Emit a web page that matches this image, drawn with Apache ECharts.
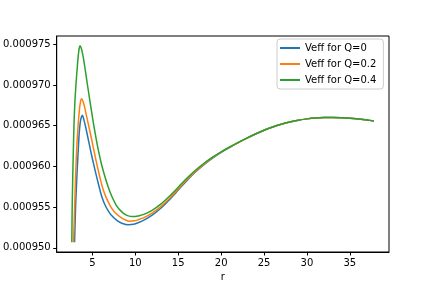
<!DOCTYPE html>
<html>
<head>
<meta charset="utf-8">
<script src="https://cdn.jsdelivr.net/npm/echarts@6/dist/echarts.min.js"></script>
<style>
html,body{margin:0;padding:0;background:#fff;}
#c{width:432px;height:288px;}
</style>
</head>
<body>
<div id="c"></div>
<script>
// ---- data ----
const seriesNames = ['Veff for Q=0', 'Veff for Q=0.2', 'Veff for Q=0.4'];
const xTicks = [5, 10, 15, 20, 25, 30, 35];
const yTicks = [0.000950, 0.000955, 0.000960, 0.000965, 0.000970, 0.000975];

const rQ0 = [2.92, 3.03, 3.13, 3.23, 3.35, 3.46, 3.55, 3.65, 3.75, 3.84, 4.0, 4.2, 4.54, 4.9, 5.31, 5.7, 6.08, 6.5, 7.05, 7.5,
  8.01, 8.5, 9.17, 9.8, 10.32, 11, 12, 13, 14, 15, 16, 17, 18, 19, 20, 21, 22, 23, 24, 25,
  26, 27, 28, 29, 30, 31, 32, 33, 34, 35, 36, 37, 37.8];
const vQ0 = [950.70e-6, 954.78e-6, 957.40e-6, 959.64e-6, 962.00e-6, 964.06e-6, 965.10e-6, 965.80e-6, 966.15e-6, 966.29e-6,
  965.75e-6, 964.90e-6, 963.20e-6, 961.40e-6, 959.52e-6, 957.85e-6, 956.35e-6, 955.20e-6, 954.20e-6, 953.70e-6,
  953.25e-6, 953.00e-6, 952.85e-6, 952.90e-6, 953.08e-6, 953.40e-6, 954.05e-6, 954.90e-6, 955.95e-6, 957.10e-6,
  958.26e-6, 959.31e-6, 960.22e-6, 961.02e-6, 961.72e-6, 962.34e-6, 962.92e-6, 963.47e-6, 963.98e-6, 964.44e-6,
  964.84e-6, 965.18e-6, 965.46e-6, 965.68e-6, 965.84e-6, 965.95e-6, 966.00e-6, 966.01e-6, 965.98e-6, 965.92e-6,
  965.82e-6, 965.70e-6, 965.58e-6];

const rQ02 = [2.80, 2.92, 3.07, 3.2, 3.35, 3.5, 3.62, 3.73, 3.9, 4.1, 4.31, 4.73, 5.1, 5.5, 5.9, 6.27, 6.7, 7.23, 7.8, 8.39,
  8.9, 9.36, 9.9, 10.32, 11, 12, 13, 14, 15, 16, 17, 18, 19, 20, 21, 22, 23, 24, 25, 26,
  27, 28, 29, 30, 31, 32, 33, 34, 35, 36, 37, 37.8];
const vQ02 = [950.70e-6, 954.78e-6, 959.64e-6, 962.80e-6, 965.27e-6, 967.10e-6, 968.00e-6, 968.31e-6, 968.00e-6, 967.25e-6,
  966.20e-6, 964.20e-6, 962.35e-6, 960.35e-6, 958.55e-6, 957.10e-6, 955.95e-6, 954.88e-6, 954.15e-6, 953.68e-6,
  953.40e-6, 953.28e-6, 953.32e-6, 953.45e-6, 953.72e-6, 954.30e-6, 955.10e-6, 956.10e-6, 957.23e-6, 958.37e-6,
  959.40e-6, 960.29e-6, 961.07e-6, 961.75e-6, 962.36e-6, 962.93e-6, 963.48e-6, 963.98e-6, 964.44e-6, 964.84e-6,
  965.18e-6, 965.46e-6, 965.68e-6, 965.84e-6, 965.95e-6, 966.00e-6, 966.01e-6, 965.98e-6, 965.92e-6, 965.82e-6,
  965.70e-6, 965.58e-6];

const rQ04 = [2.60, 2.65, 2.77, 2.85, 2.95, 3.1, 3.23, 3.35, 3.45, 3.55, 3.7, 3.9, 4.1, 4.31, 4.54, 4.8, 5.12, 5.4, 5.69, 6.05,
  6.47, 6.85, 7.23, 7.8, 8.39, 8.8, 9.17, 9.63, 10.0, 10.32, 11, 12, 13, 14, 15, 16, 17, 18, 19, 20,
  21, 22, 23, 24, 25, 26, 27, 28, 29, 30, 31, 32, 33, 34, 35, 36, 37, 37.8];
const vQ04 = [950.70e-6, 955.54e-6, 961.62e-6, 965.00e-6, 967.70e-6, 970.30e-6, 972.10e-6, 973.60e-6, 974.45e-6, 974.81e-6,
  974.50e-6, 973.60e-6, 972.30e-6, 970.80e-6, 969.20e-6, 967.40e-6, 965.30e-6, 963.60e-6, 962.00e-6, 960.30e-6,
  958.70e-6, 957.45e-6, 956.40e-6, 955.20e-6, 954.45e-6, 954.10e-6, 953.93e-6, 953.85e-6, 953.86e-6, 953.92e-6,
  954.11e-6, 954.64e-6, 955.40e-6, 956.37e-6, 957.45e-6, 958.54e-6, 959.53e-6, 960.39e-6, 961.14e-6, 961.80e-6,
  962.39e-6, 962.95e-6, 963.48e-6, 963.98e-6, 964.44e-6, 964.84e-6, 965.18e-6, 965.46e-6, 965.68e-6, 965.84e-6,
  965.95e-6, 966.00e-6, 966.01e-6, 965.98e-6, 965.92e-6, 965.82e-6, 965.70e-6, 965.58e-6];

const colors = ['#1f77b4', '#ff7f0e', '#2ca02c'];
const FONT = 'DejaVu Sans';

function pairs(xs, ys) { return xs.map((x, i) => [x, ys[i]]); }

const chart = echarts.init(document.getElementById('c'), null, {renderer: 'canvas'});
const allR = rQ0.concat(rQ02, rQ04), allV = vQ0.concat(vQ02, vQ04);
const rMin = Math.min(...allR), rMax = Math.max(...allR);
const vMin = Math.min(...allV), vMax = Math.max(...allV);
const rPad = (rMax - rMin) * 0.05, vPad = (vMax - vMin) * 0.05;

chart.setOption({
  animation: false,
  backgroundColor: '#ffffff',
  grid: {left: 54, right: 43, top: 36, bottom: 36, show: true, borderColor: '#000', borderWidth: 1, backgroundColor: 'transparent'},
  legend: {
    orient: 'vertical', left: 277, top: 39,
    backgroundColor: 'rgba(255,255,255,0.8)', borderColor: '#cccccc', borderWidth: 1, borderRadius: 3,
    padding: [3, 7, 3, 3], itemWidth: 20, itemHeight: 2, itemGap: 4, itemTextGap: 7, icon: 'rect',
    textStyle: {fontSize: 10, color: '#000', fontFamily: FONT, lineHeight: 12},
    data: seriesNames
  },
  xAxis: {
    type: 'value', min: rMin - rPad, max: rMax + rPad,
    name: 'r', nameLocation: 'middle', nameGap: 19,
    nameTextStyle: {fontSize: 10, color: '#000', fontFamily: FONT},
    axisLine: {show: true, lineStyle: {color: '#000', width: 1}},
    axisTick: {show: true, length: 3.5, inside: false, customValues: xTicks, lineStyle: {color: '#000', width: 1}},
    axisLabel: {show: true, customValues: xTicks, margin: 6, fontSize: 10, color: '#000', fontFamily: FONT, formatter: v => String(Math.round(v))},
    splitLine: {show: false}
  },
  yAxis: {
    type: 'value', min: vMin - vPad, max: vMax + vPad,
    axisLine: {show: true, lineStyle: {color: '#000', width: 1}},
    axisTick: {show: true, length: 3.5, inside: false, customValues: yTicks, lineStyle: {color: '#000', width: 1}},
    axisLabel: {show: true, customValues: yTicks, margin: 6, fontSize: 10, color: '#000', fontFamily: FONT, formatter: v => v.toFixed(6)},
    splitLine: {show: false}
  },
  series: [
    {name: seriesNames[0], type: 'line', data: pairs(rQ0, vQ0)},
    {name: seriesNames[1], type: 'line', data: pairs(rQ02, vQ02)},
    {name: seriesNames[2], type: 'line', data: pairs(rQ04, vQ04)}
  ].map((s, i) => Object.assign(s, {
    showSymbol: false, symbol: 'none', smooth: 0.3,
    lineStyle: {color: colors[i], width: 1.5}, itemStyle: {color: colors[i]}
  }))
});
</script>
</body>
</html>
